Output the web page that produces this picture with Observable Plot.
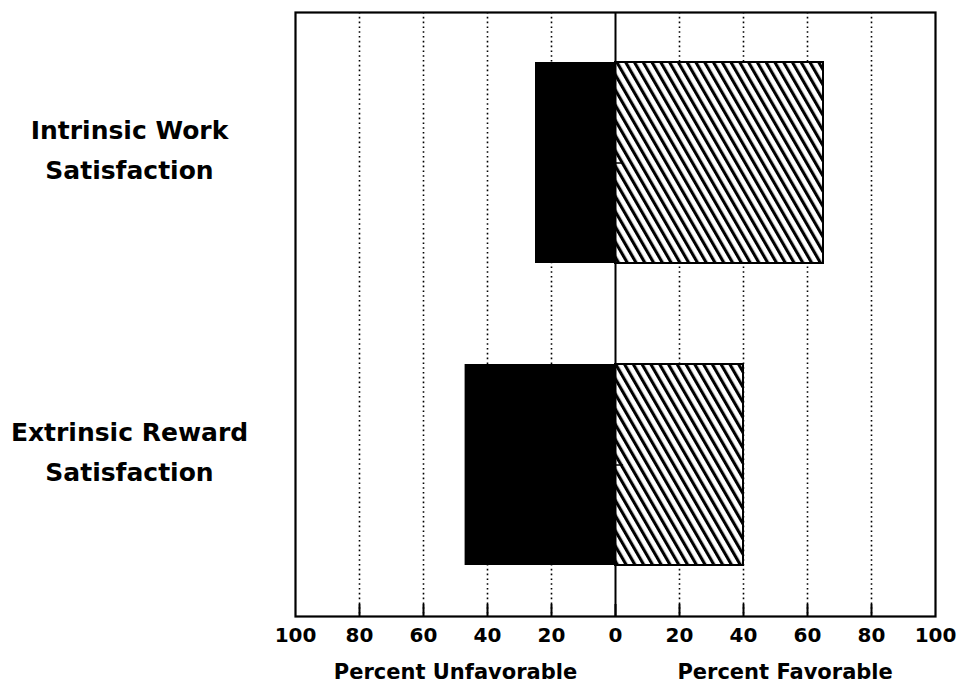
<!DOCTYPE html>
<html>
<head>
<meta charset="utf-8">
<script src="https://cdn.jsdelivr.net/npm/d3@7"></script>
<script src="https://cdn.jsdelivr.net/npm/@observablehq/plot@0.6"></script>
<style>
  html, body { margin: 0; padding: 0; background: #fff; }
  svg { display: block; }
</style>
</head>
<body>
<div id="chart"></div>
<script>
const categories = ["Intrinsic Work\nSatisfaction", "Extrinsic Reward\nSatisfaction"];
const unfavorable = [25, 47];
const favorable = [65, 40];
const tickValues = [-100, -80, -60, -40, -20, 0, 20, 40, 60, 80, 100];
const gridValues = [-80, -60, -40, -20, 20, 40, 60, 80];
const axisTitles = ["Percent Unfavorable", "Percent Favorable"];

const rows = categories.map((c, i) => ({cat: c, unfav: unfavorable[i], fav: favorable[i]}));
const font = "'DejaVu Sans', sans-serif";

const svg = Plot.plot({
  width: 966,
  height: 689,
  marginTop: 12,
  marginBottom: 73,
  marginLeft: 295,
  marginRight: 31,
  style: {fontFamily: font, background: "#fff", color: "#000"},
  x: {domain: [-100, 100], label: null},
  y: {domain: categories, paddingInner: 1/3, paddingOuter: 1/6, axis: null, label: null},
  marks: [
    Plot.gridX(gridValues, {stroke: "#000", strokeOpacity: 1, strokeWidth: 1.6, strokeDasharray: "1.6,3.2"}),
    Plot.barX(rows, {y: "cat", x1: d => -d.unfav, x2: 0, fill: "#000"}),
    Plot.barX(rows, {y: "cat", x1: 0, x2: "fav", fill: "url(#hatch)", stroke: "#000", strokeWidth: 2}),
    Plot.ruleX([0], {stroke: "#000", strokeWidth: 2}),
    Plot.ruleY(rows, {y: "cat", x1: 0, x2: 2.5, stroke: "#000", strokeWidth: 1.5}),
    Plot.tickX(tickValues.slice(1, -1), {x: d => d, stroke: "#000", strokeWidth: 2, insetTop: 592}),
    Plot.frame({stroke: "#000", strokeWidth: 2.2}),
    Plot.axisX(tickValues, {
      anchor: "bottom", tickSize: 0, tickPadding: 11, label: null,
      tickFormat: d => Math.abs(d), fontSize: 20, fontWeight: "bold", fill: "#000"
    }),
    Plot.text(rows, {
      y: "cat", text: "cat", frameAnchor: "left", dx: -166, dy: -17,
      textAnchor: "middle", lineAnchor: "middle", lineHeight: 1.6,
      fontSize: 25, fontWeight: "bold", fill: "#000"
    }),
    Plot.text([axisTitles[0]], {
      x: () => -50, text: d => d, frameAnchor: "bottom", dy: 56,
      textAnchor: "middle", lineAnchor: "middle",
      fontSize: 21, fontWeight: "bold", fill: "#000"
    }),
    Plot.text([axisTitles[1]], {
      x: () => 53, text: d => d, frameAnchor: "bottom", dy: 56,
      textAnchor: "middle", lineAnchor: "middle",
      fontSize: 21, fontWeight: "bold", fill: "#000"
    })
  ]
});

const defs = d3.select(svg).insert("defs", ":first-child");
const pat = defs.append("pattern")
  .attr("id", "hatch")
  .attr("patternUnits", "userSpaceOnUse")
  .attr("width", 7.6)
  .attr("height", 20)
  .attr("patternTransform", "rotate(-30)");
pat.append("rect").attr("width", 7.6).attr("height", 20).attr("fill", "#fff");
pat.append("line").attr("x1", 1.5).attr("x2", 1.5).attr("y1", 0).attr("y2", 20)
  .attr("stroke", "#000").attr("stroke-width", 3.2);

document.getElementById("chart").appendChild(svg);
</script>
</body>
</html>
